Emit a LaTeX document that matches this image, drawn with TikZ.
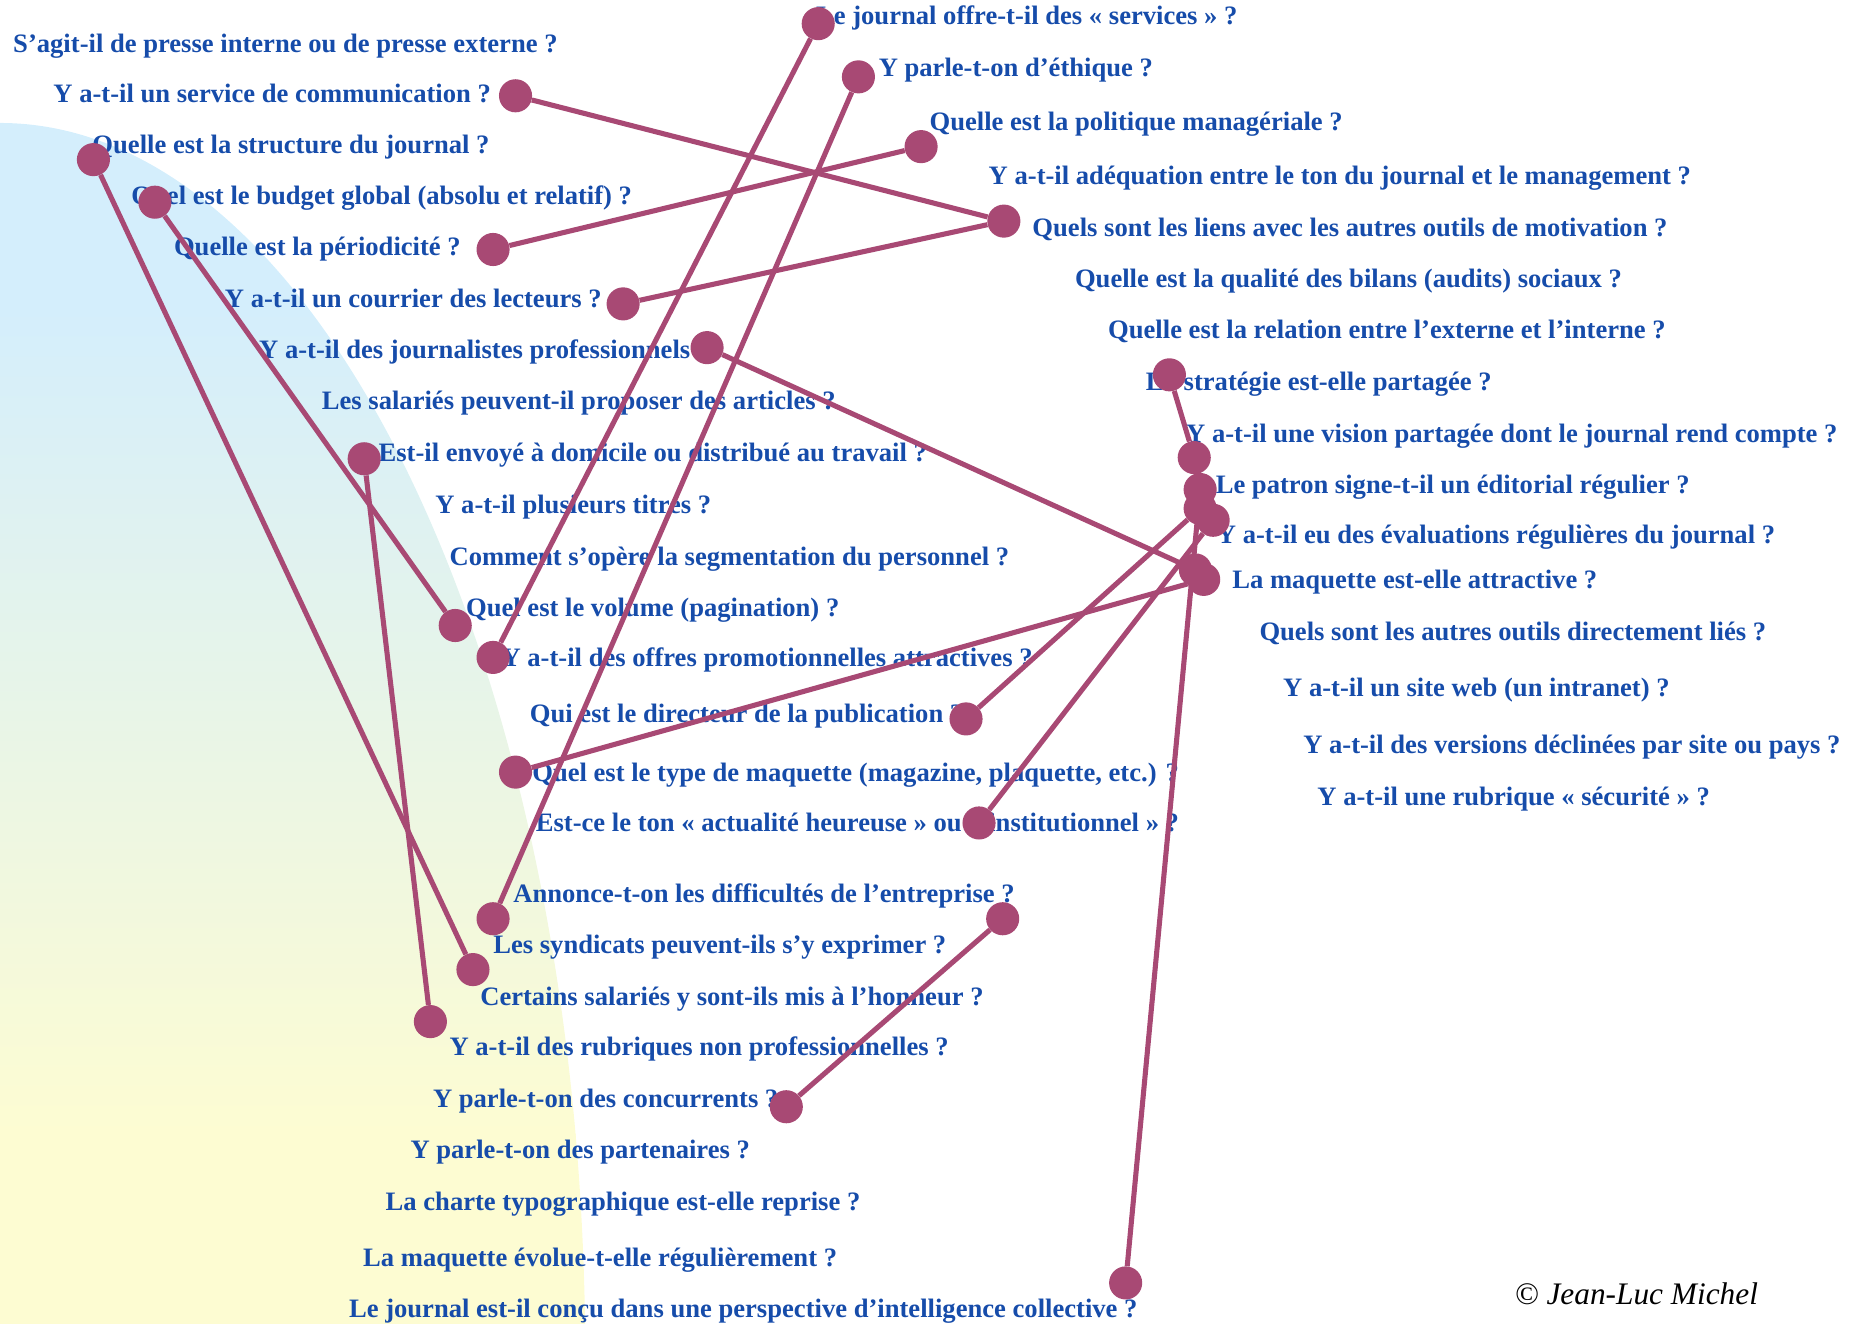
\documentclass[tikz,border=0pt]{standalone}
\usepackage{fontspec}
\setmainfont{Liberation Serif}
\definecolor{txtblue}{RGB}{22,76,170}
\definecolor{linec}{RGB}{168,73,116}
\definecolor{bgtop}{RGB}{212,238,252}
\definecolor{bgbot}{RGB}{253,252,210}
\tikzset{
  q/.style={anchor=base west,inner sep=0pt,text=txtblue,font=\fontsize{22.5}{26}\selectfont\bfseries},
  dot/.style={circle,fill=linec,draw=none,minimum size=28pt,inner sep=0pt},
  conn/.style={draw=linec,line width=4.3pt},
  copy/.style={anchor=base west,inner sep=0pt,text=black,font=\fontsize{26.5}{30}\selectfont\itshape}
}
\begin{document}
\begin{tikzpicture}[x=1pt,y=-1pt]
\useasboundingbox (0,0) rectangle (1568,1120);
\begin{scope}
\clip (0,1150) ellipse [x radius=495pt,y radius=1046pt];
\fill[bgtop] (0,100) rectangle (500,260);
\shade[top color=bgtop,bottom color=bgbot] (0,259) rectangle (500,960);
\fill[bgbot] (0,959) rectangle (500,1120);
\end{scope}
% left column
\node[q] (t1) at (11,44) {S’agit-il de presse interne ou de presse externe ?};
\node[q] (t2) at (45,87) {Y a-t-il un service de communication ?};
\node[q] (t3) at (78,130) {Quelle est la structure du journal ?};
\node[q] (t4) at (111,173) {Quel est le budget global (absolu et relatif) ?};
\node[q] (t5) at (147,216) {Quelle est la périodicité ?};
\node[q] (t6) at (190,260) {Y a-t-il un courrier des lecteurs ?};
\node[q] (t7) at (219,303) {Y a-t-il des journalistes professionnels};
\node[q] (t8) at (272,346) {Les salariés peuvent-il proposer des articles ?};
\node[q] (t9) at (320,390) {Est-il envoyé à domicile ou distribué au travail ?};
\node[q] (t10) at (368,434) {Y a-t-il plusieurs titres ?};
\node[q] (t11) at (380,478) {Comment s’opère la segmentation du personnel ?};
\node[q] (t12) at (394,521) {Quel est le volume (pagination) ?};
\node[q] (t13) at (424,564) {Y a-t-il des offres promotionnelles attractives ?};
\node[q] (t14) at (448,611) {Qui est le directeur de la publication ?};
\node[q] (t15) at (450,661) {Quel est le type de maquette (magazine, plaquette, etc.) ?};
\node[q] (t16) at (453,703) {Est-ce le ton « actualité heureuse » ou « institutionnel » ?};
\node[q] (t17) at (434,763) {Annonce-t-on les difficultés de l’entreprise ?};
\node[q] (t18) at (417,806) {Les syndicats peuvent-ils s’y exprimer ?};
\node[q] (t19) at (406,850) {Certains salariés y sont-ils mis à l’honneur ?};
\node[q] (t20) at (380,893) {Y a-t-il des rubriques non professionnelles ?};
\node[q] (t21) at (366,937) {Y parle-t-on des concurrents ?};
\node[q] (t22) at (347,980) {Y parle-t-on des partenaires ?};
\node[q] (t23) at (326,1024) {La charte typographique est-elle reprise ?};
\node[q] (t24) at (307,1071) {La maquette évolue-t-elle régulièrement ?};
\node[q] (t25) at (295,1114) {Le journal est-il conçu dans une perspective d’intelligence collective ?};
% right column
\node[q] (t26) at (690,21) {Le journal offre-t-il des « services » ?};
\node[q] (t27) at (743,65) {Y parle-t-on d’éthique ?};
\node[q] (t28) at (786,110) {Quelle est la politique managériale ?};
\node[q] (t29) at (836,156) {Y a-t-il adéquation entre le ton du journal et le management ?};
\node[q] (t30) at (873,200) {Quels sont les liens avec les autres outils de motivation ?};
\node[q] (t31) at (909,243) {Quelle est la qualité des bilans (audits) sociaux ?};
\node[q] (t32) at (937,286) {Quelle est la relation entre l’externe et l’interne ?};
\node[q] (t33) at (969,330) {La stratégie est-elle partagée ?};
\node[q] (t34) at (1003,374) {Y a-t-il une vision partagée dont le journal rend compte ?};
\node[q] (t35) at (1028,417) {Le patron signe-t-il un éditorial régulier ?};
\node[q] (t36) at (1029,460) {Y a-t-il eu des évaluations régulières du journal ?};
\node[q] (t37) at (1042,498) {La maquette est-elle attractive ?};
\node[q] (t38) at (1065,542) {Quels sont les autres outils directement liés ?};
\node[q] (t39) at (1085,589) {Y a-t-il un site web (un intranet) ?};
\node[q] (t40) at (1102,637) {Y a-t-il des versions déclinées par site ou pays ?};
\node[q] (t41) at (1114,681) {Y a-t-il une rubrique « sécurité » ?};
\node[copy] (cr) at (1281,1103) {© Jean-Luc Michel};
% dots
\node[dot] (d1) at (692,20) {};
\node[dot] (d2) at (726,65) {};
\node[dot] (d3) at (436,81) {};
\node[dot] (d4) at (779,124) {};
\node[dot] (d5) at (849,187) {};
\node[dot] (d6) at (79,135) {};
\node[dot] (d7) at (131,171) {};
\node[dot] (d8) at (417,211) {};
\node[dot] (d9) at (527,257) {};
\node[dot] (d10) at (598,294) {};
\node[dot] (d11) at (308,388) {};
\node[dot] (d12) at (385,529) {};
\node[dot] (d13) at (417,556) {};
\node[dot] (d14) at (817,608) {};
\node[dot] (d15) at (436,653) {};
\node[dot] (d16) at (828,696) {};
\node[dot] (d17) at (417,777) {};
\node[dot] (d18) at (848,777) {};
\node[dot] (d19) at (400,820) {};
\node[dot] (d20) at (364,864) {};
\node[dot] (d21) at (665,936) {};
\node[dot] (d22) at (952,1085) {};
\node[dot] (d23) at (989,317) {};
\node[dot] (d24) at (1010,387) {};
\node[dot] (d25) at (1015,414) {};
\node[dot] (d26) at (1015,430) {};
\node[dot] (d27) at (1026,440) {};
\node[dot] (d28) at (1011,482) {};
\node[dot] (d29) at (1018,490) {};
% connectors
\draw[conn] (d1) -- (d13);
\draw[conn] (d2) -- (d17);
\draw[conn] (d3) -- (d5);
\draw[conn] (d9) -- (d5);
\draw[conn] (d4) -- (d8);
\draw[conn] (d6) -- (d19);
\draw[conn] (d7) -- (d12);
\draw[conn] (d11) -- (d20);
\draw[conn] (d10) -- (d28);
\draw[conn] (d18) -- (d21);
\draw[conn] (d23) -- (d24);
\draw[conn] (d26) -- (d14);
\draw[conn] (d27) -- (d16);
\draw[conn] (d29) -- (d15);
\draw[conn] (d25) -- (d22);
\end{tikzpicture}
\end{document}
